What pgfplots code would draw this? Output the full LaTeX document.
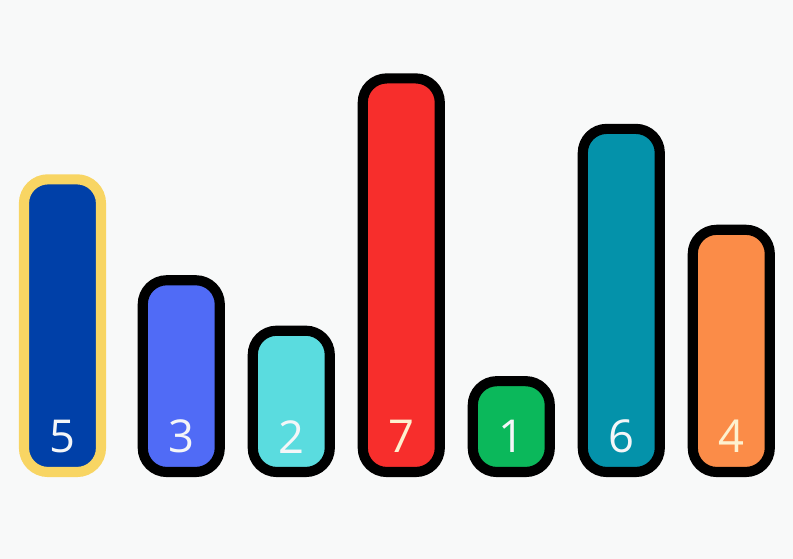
\documentclass[border=0pt]{standalone}
\usepackage{pgfplots}
\pgfplotsset{compat=1.18}
\usepackage{fontspec}
\setmainfont{Open Sans}
\definecolor{bg}{HTML}{F8F9F9}
\definecolor{ylw}{HTML}{F8D563}
\definecolor{cA}{HTML}{0040A8}
\definecolor{cB}{HTML}{506BF6}
\definecolor{cC}{HTML}{5ADCDF}
\definecolor{cD}{HTML}{F72E2C}
\definecolor{cE}{HTML}{0BB85B}
\definecolor{cF}{HTML}{0492AA}
\definecolor{cG}{HTML}{FB8C48}
\definecolor{cream}{HTML}{FDF1CF}
\definecolor{wht}{HTML}{F4F6F8}
\begin{document}
\begin{tikzpicture}
\fill[bg] (0,0) rectangle (594.75pt,419.25pt);
\begin{axis}[at={(0,0)}, anchor=south west, scale only axis,
  width=594.75pt, height=419.25pt,
  xmin=-0.648, xmax=6.561, ymin=-2.524, ymax=8.554,
  hide axis, clip=false, ybar, bar width=0.7,
  y coord trafo/.code={\pgfmathparse{#1+0.8}},
  y coord inv trafo/.code={\pgfmathparse{#1-0.8}},
  bb/.style={fill=#1, draw=black, line width=7.6pt, rounded corners=18pt, bar shift=0pt},
  lab/.style={draw=none, fill=none, bar shift=0pt, nodes near coords, point meta=explicit symbolic,
    nodes near coords align={center},
    every node near coord/.append style={anchor=center, inner sep=0pt, text=#1, font=\fontsize{34}{40}\selectfont}},
]
\addplot[bb=cA, draw=ylw] coordinates {(-0.08,5)};
\addplot[bb=cB] coordinates {(1,3)};
\addplot[bb=cC] coordinates {(2,2)};
\addplot[bb=cD] coordinates {(3,7)};
\addplot[bb=cE] coordinates {(4,1)};
\addplot[bb=cF] coordinates {(5,6)};
\addplot[bb=cG] coordinates {(6,4)};
\addplot[lab=wht] coordinates {(-0.08,-0.1) [5] (1,-0.1) [3] (2,-0.1) [2] (4,-0.1) [1] (5,-0.1) [6]};
\addplot[lab=cream] coordinates {(3,-0.1) [7] (6,-0.1) [4]};
\end{axis}
\end{tikzpicture}
\end{document}
